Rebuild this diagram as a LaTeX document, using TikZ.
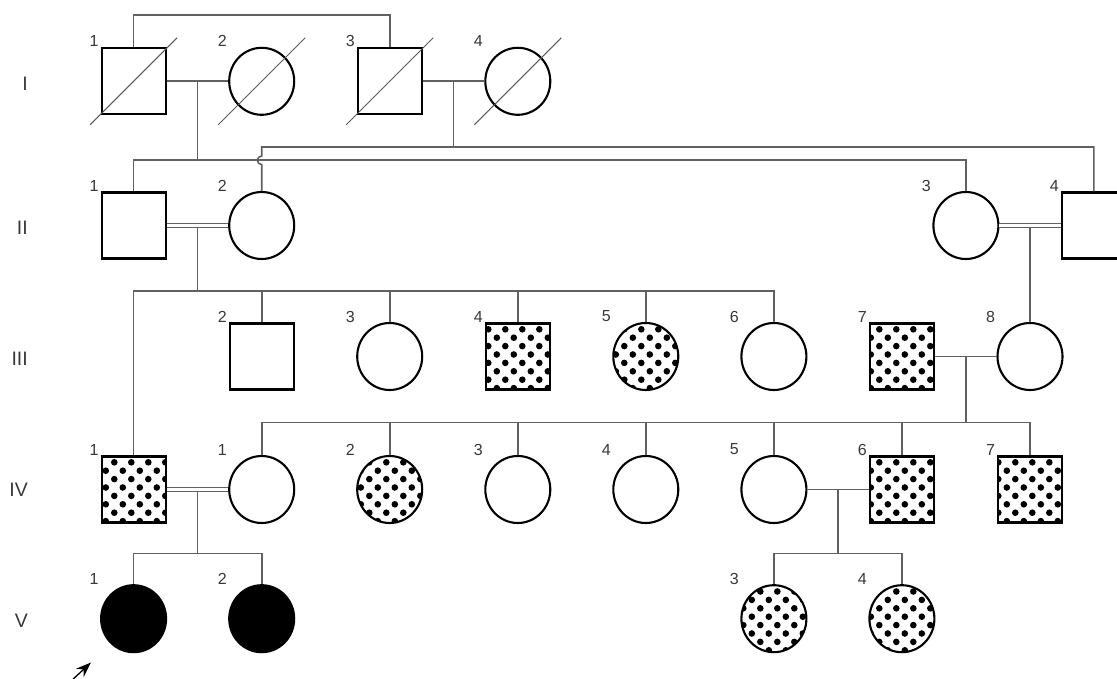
\documentclass[tikz,border=0pt]{standalone}
\usepackage{fontspec}
\setmainfont{Liberation Sans}
\usetikzlibrary{shapes.geometric,arrows.meta,calc}

\tikzset{
  sq/.style={rectangle, draw=black, line width=2.1pt, minimum width=64pt, minimum height=66pt, inner sep=0pt},
  ci/.style={ellipse, draw=black, line width=2.1pt, minimum width=65pt, minimum height=67pt, inner sep=0pt},
  filled/.style={fill=black},
  con/.style={draw=black!62, line width=1.6pt},
  dbl/.style={draw=black!62, line width=1.3pt, double=white, double distance=2.4pt},
  num/.style={font=\fontsize{16}{17}\selectfont, text=black!78, inner sep=0pt},
  gen/.style={font=\fontsize{19.5}{20}\selectfont, text=black!78, inner sep=0pt, anchor=east},
  slash/.style={draw=black!65, line width=1pt},
}

\newcommand{\dotlattice}[2]{%
  \pgfmathtruncatemacro{\kstart}{floor((#1-40-12.3)/17)}%
  \pgfmathtruncatemacro{\kend}{\kstart+5}%
  \foreach \dj in {0,2,4,6}{%
    \foreach \dk in {\kstart,...,\kend}{%
      \fill ({12.3+17*\dk},{#2-27.2+8.4*\dj}) circle[radius=3.3pt];
      \fill ({20.8+17*\dk},{#2-27.2+8.4*(\dj+1)}) circle[radius=3.3pt];
    }}}
\newcommand{\sqdots}[2]{\begin{scope}\clip (#1-32,#2-33) rectangle (#1+32,#2+33); \dotlattice{#1}{#2}\end{scope}}
\newcommand{\cidots}[2]{\begin{scope}\clip (#1,#2) ellipse[x radius=32.5pt, y radius=33.5pt]; \dotlattice{#1}{#2}\end{scope}}
\newcommand{\lab}[2]{\node[num] (l-#1) at ($(#1.center)+(-39.5,-40)$) {#2};}

\begin{document}
\begin{tikzpicture}[x=1pt,y=-1pt]
\fill[white] (0,0) rectangle (1117,679);
\useasboundingbox (0,0) rectangle (1117,679);

% dotted fills (drawn under the outlines)
\sqdots{517.8}{356.5}
\cidots{645.8}{356.5}
\sqdots{901.9}{356.5}
\sqdots{133.6}{489.5}
\cidots{389.7}{489.5}
\sqdots{901.9}{489.5}
\sqdots{1030}{489.5}
\cidots{773.9}{618.7}
\cidots{901.9}{618.7}

% generation I
\node[sq] (I1) at (133.6,81.3) {};
\node[ci] (I2) at (261.7,81.3) {};
\node[sq] (I3) at (389.7,81.3) {};
\node[ci] (I4) at (517.8,81.3) {};
% generation II
\node[sq] (II1) at (133.6,225.5) {};
\node[ci] (II2) at (261.7,225.5) {};
\node[ci] (II3) at (965.9,225.5) {};
\node[sq] (II4) at (1093.8,225.5) {};
% generation III
\node[sq] (III2) at (261.7,356.5) {};
\node[ci] (III3) at (389.7,356.5) {};
\node[sq] (III4) at (517.8,356.5) {};
\node[ci] (III5) at (645.8,356.5) {};
\node[ci] (III6) at (773.9,356.5) {};
\node[sq] (III7) at (901.9,356.5) {};
\node[ci] (III8) at (1030,356.5) {};
% generation IV
\node[sq] (IVa) at (133.6,489.5) {};
\node[ci] (IVb) at (261.7,489.5) {};
\node[ci] (IV2) at (389.7,489.5) {};
\node[ci] (IV3) at (517.8,489.5) {};
\node[ci] (IV4) at (645.8,489.5) {};
\node[ci] (IV5) at (773.9,489.5) {};
\node[sq] (IV6) at (901.9,489.5) {};
\node[sq] (IV7) at (1030,489.5) {};
% generation V
\node[ci,filled] (V1) at (133.6,618.7) {};
\node[ci,filled] (V2) at (261.7,618.7) {};
\node[ci] (V3) at (773.9,618.7) {};
\node[ci] (V4) at (901.9,618.7) {};

% deceased slashes
\foreach \n in {I1,I2,I3,I4}
  \draw[slash] ($(\n.center)+(-43.5,43.5)$) -- ($(\n.center)+(43.5,-43.5)$);

% labels
\lab{I1}{1} \lab{I2}{2} \lab{I3}{3} \lab{I4}{4}
\lab{II1}{1} \lab{II2}{2} \lab{II3}{3} \lab{II4}{4}
\lab{III2}{2} \lab{III3}{3} \lab{III4}{4} \lab{III5}{5} \lab{III6}{6} \lab{III7}{7} \lab{III8}{8}
\lab{IVa}{1} \lab{IVb}{1} \lab{IV2}{2} \lab{IV3}{3} \lab{IV4}{4} \lab{IV5}{5} \lab{IV6}{6} \lab{IV7}{7}
\lab{V1}{1} \lab{V2}{2} \lab{V3}{3} \lab{V4}{4}

\node[gen] (gI) at (28,83.3) {I};
\node[gen] (gII) at (28,228) {II};
\node[gen] (gIII) at (28,358.3) {III};
\node[gen] (gIV) at (28,490) {IV};
\node[gen] (gV) at (28,621) {V};

% levels
\coordinate (yTop) at (0,15.3);
\coordinate (yIIa) at (0,160.3);
\coordinate (yIIb) at (0,147);
\coordinate (yIII) at (0,291);
\coordinate (yIV) at (0,422.5);
\coordinate (yV) at (0,553.3);

% sibs I-1 and I-3
\draw[con] (I1.north) |- (I3.north |- yTop) -- (I3.north);

% I-1 x I-2
\draw[con] (I1.east) -- (I2.west);
\coordinate (mI12) at ($(I1.east)!0.5!(I2.west)$);
\draw[con] (mI12) -- (mI12 |- yIIa);
\draw[con] (II1.north) |- (II3.north |- yIIa) -- (II3.north);

% I-3 x I-4
\draw[con] (I3.east) -- (I4.west);
\coordinate (mI34) at ($(I3.east)!0.5!(I4.west)$);
\draw[con] (mI34) -- (mI34 |- yIIb);
\draw[con] (II4.north) |- (II2.north |- yIIb) -- ($(II2.north |- yIIa)+(0,-4.3)$)
  arc[start angle=90, end angle=270, radius=4.3pt] -- (II2.north);

% II-1 x II-2
\coordinate (mII12) at ($(II1.east)!0.5!(II2.west)$);
\draw[con] (mII12) -- (mII12 |- yIII);
\draw[dbl] (II1.east) -- (II2.west);
\draw[con] (IVa.north) |- (III6.north |- yIII) -- (III6.north);
\foreach \n in {III2,III3,III4,III5}
  \draw[con] (\n.north) -- (\n.north |- yIII);

% II-3 x II-4
\coordinate (mII34) at ($(II3.east)!0.5!(II4.west)$);
\draw[con] (mII34) -- (mII34 |- III8.north);
\draw[dbl] (II3.east) -- (II4.west);

% III-7 x III-8
\draw[con] (III7.east) -- (III8.west);
\coordinate (mIII78) at ($(III7.east)!0.5!(III8.west)$);
\draw[con] (mIII78) -- (mIII78 |- yIV);
\draw[con] (IVb.north) |- (IV7.north |- yIV) -- (IV7.north);
\foreach \n in {IV2,IV3,IV4,IV5,IV6}
  \draw[con] (\n.north) -- (\n.north |- yIV);

% IV-1 x IV-1
\coordinate (mIVab) at ($(IVa.east)!0.5!(IVb.west)$);
\draw[con] (mIVab) -- (mIVab |- yV);
\draw[dbl] (IVa.east) -- (IVb.west);
\draw[con] (V1.north) |- (V2.north |- yV) -- (V2.north);

% IV-5 x IV-6
\draw[con] (IV5.east) -- (IV6.west);
\coordinate (mIV56) at ($(IV5.east)!0.5!(IV6.west)$);
\draw[con] (mIV56) -- (mIV56 |- yV);
\draw[con] (V3.north) |- (V4.north |- yV) -- (V4.north);

% proband arrow
\coordinate (arrT) at (70,682);
\coordinate (arrH) at (91,662.5);
\draw[-{Stealth[length=15pt,width=11pt]}, line width=1.3pt, black] (arrT) -- (arrH);
\end{tikzpicture}
\end{document}
